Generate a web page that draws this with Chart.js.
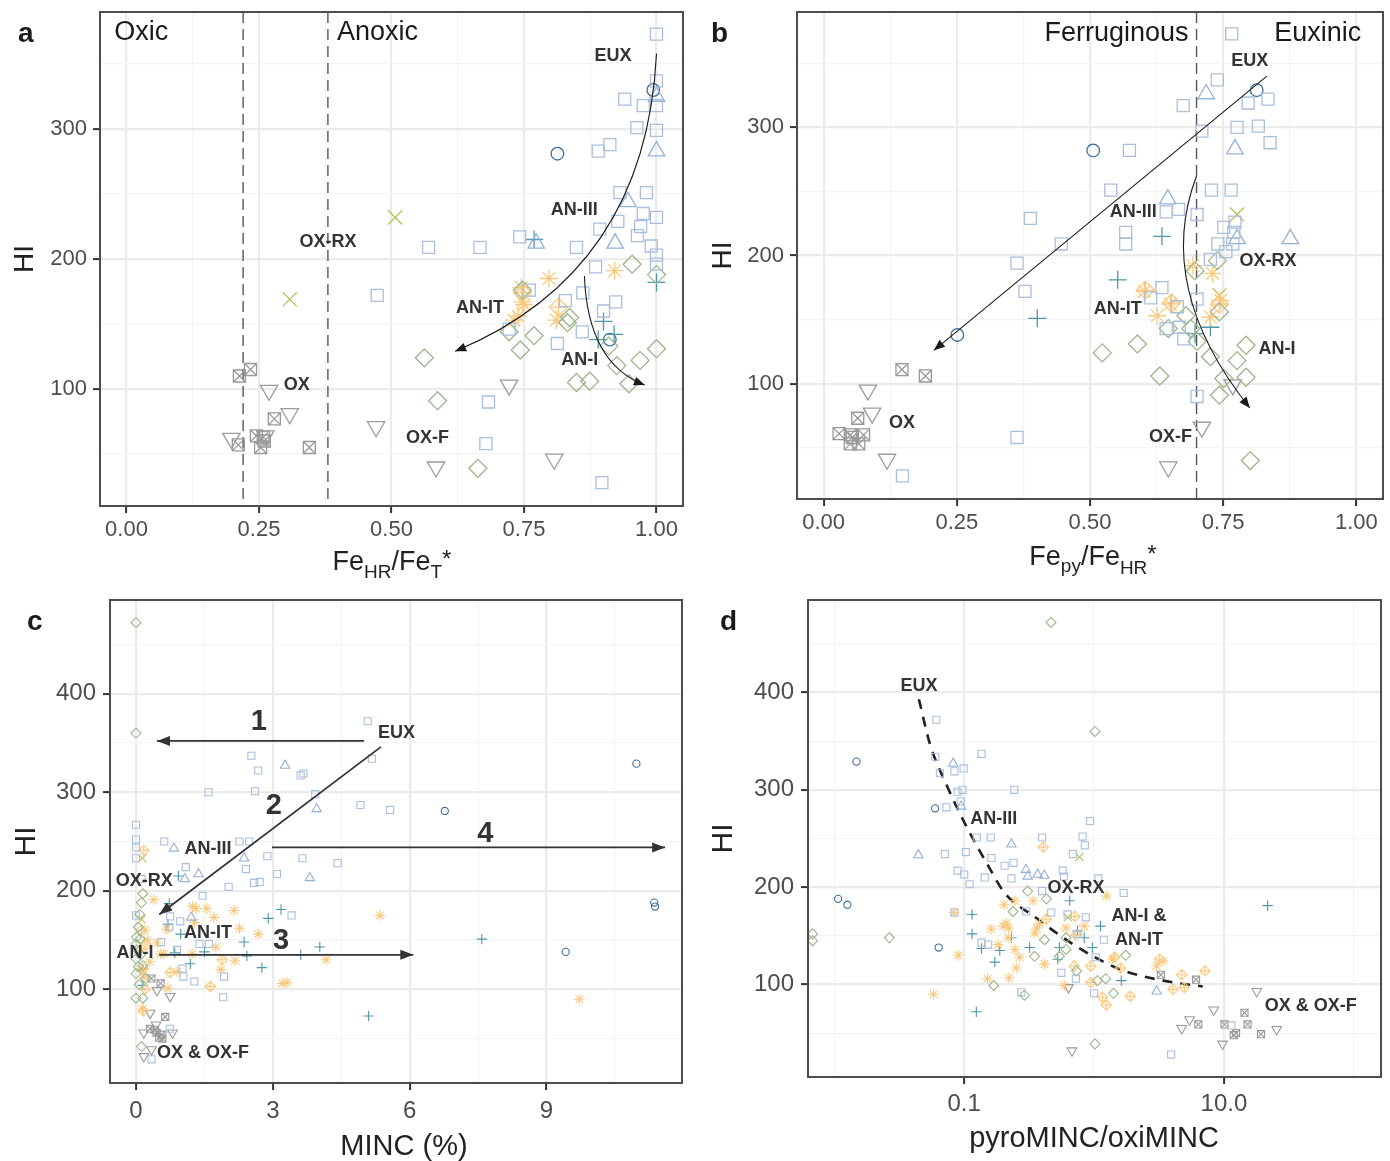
<!DOCTYPE html>
<html>
<head>
<meta charset="utf-8">
<title>HI vs iron speciation and MINC</title>
<script src="https://cdn.jsdelivr.net/npm/chart.js@4.4.0/dist/chart.umd.min.js"></script>
<style>
  body { margin: 0; background: #fff; }
  #wrap { position: relative; width: 1390px; height: 1161px; }
  #wrap canvas { position: absolute; }
</style>
</head>
<body>
<div id="wrap">
  <canvas id="cA" width="695" height="585" style="left:0;top:0"></canvas>
  <canvas id="cB" width="695" height="585" style="left:695px;top:0"></canvas>
  <canvas id="cC" width="695" height="576" style="left:0;top:585px"></canvas>
  <canvas id="cD" width="695" height="576" style="left:695px;top:585px"></canvas>
</div>
<script>
const FONT = '"Liberation Sans", Arial, Helvetica, sans-serif';

// ---------- panel a : FeHR/FeT* vs HI ----------
const aSquares = [[1.00,373],[1.00,337],[0.94,323],[0.975,318],[1.00,318],[0.963,301],[1.00,299],[0.89,283],[0.912,288],
  [0.931,251],[0.981,251],[0.975,235],[1.00,232],[0.927,229],[0.893,223],[0.97,225],[0.964,218],[0.99,210],[1.00,203],
  [1.00,196],[0.742,217],[0.57,209],[0.667,209],[0.849,209],[0.885,194],[0.473,172],[0.76,176],[0.828,168],[0.861,174],
  [0.923,167],[0.90,160],[0.86,144],[0.813,135],[0.722,146],[0.683,90],[0.678,58],[0.897,28]];
const aCircles = [[0.994,330],[0.813,281],[0.912,138]];
const aTriangles = [[1.00,325],[1.00,283],[0.946,244],[0.922,212],[0.773,212]];
const aPlus = [[0.769,215],[1.00,182],[0.90,152],[0.89,138],[0.92,142]];
const aCrossX = [[0.507,232],[0.308,169]];
const aDiamonds = [[0.954,196],[1.00,188],[0.747,176],[0.836,155],[0.832,151],[0.722,144],[0.769,141],[0.743,130],
  [0.91,133],[0.562,124],[1.00,131],[0.925,118],[0.969,122],[0.849,105],[0.874,106],[0.948,104],[0.587,91],[0.663,39]];
const aStars = [[0.797,185],[0.921,191],[0.747,167],[0.739,156],[0.731,153],[0.811,153],[0.75,165],[0.745,178]];
const aDiamondPlus = [[0.815,163],[0.747,174]];
const aTriDown = [[0.269,99],[0.308,81],[0.198,62],[0.262,64],[0.471,71],[0.584,40],[0.722,103],[0.807,46]];
const aBoxX = [[0.213,110],[0.234,115],[0.279,77],[0.211,57],[0.245,64],[0.258,63],[0.253,55],[0.26,60],[0.345,55]];

// ---------- panel b : Fepy/FeHR* vs HI ----------
const bSquares = [[0.766,373],[0.739,337],[0.675,317],[0.797,319],[0.834,322],[0.71,297],[0.776,300],[0.816,301],
  [0.838,288],[0.574,282],[0.539,251],[0.728,251],[0.765,251],[0.388,229],[0.643,234],[0.666,236],[0.701,232],
  [0.567,218],[0.567,209],[0.446,209],[0.363,194],[0.751,222],[0.772,226],[0.77,218],[0.74,209],[0.768,209],
  [0.755,203],[0.726,197],[0.378,172],[0.635,175],[0.614,167],[0.701,166],[0.664,160],[0.643,143],[0.668,144],
  [0.676,135],[0.701,90],[0.363,58],[0.148,28]];
const bCircles = [[0.813,329],[0.506,282],[0.251,138]];
const bTriangles = [[0.718,326],[0.772,283],[0.646,244],[0.876,213],[0.776,213]];
const bPlus = [[0.635,215],[0.552,181],[0.401,151],[0.726,144],[0.697,139]];
const bCrossX = [[0.776,232],[0.743,169]];
const bDiamonds = [[0.739,196],[0.697,188],[0.743,156],[0.68,153],[0.647,143],[0.689,143],[0.726,121],[0.701,133],
  [0.523,124],[0.589,131],[0.631,106],[0.793,130],[0.776,118],[0.793,105],[0.751,104],[0.743,91],[0.801,40]];
const bStars = [[0.693,192],[0.73,186],[0.602,172],[0.651,162],[0.626,153],[0.726,152],[0.745,165]];
const bDiamondPlus = [[0.604,173],[0.653,163],[0.743,162]];
const bTriDown = [[0.083,95],[0.091,77],[0.119,41],[0.71,66],[0.647,35],[0.768,99]];
const bBoxX = [[0.147,111],[0.191,106],[0.064,73],[0.029,61],[0.05,60],[0.075,60],[0.05,53],[0.066,53],[0.054,58]];

// ---------- panel c : MINC (%) vs HI ----------
const cSquares = [[5.08,372],[5.17,334],[2.53,337],[2.68,322],[3.61,317],[3.67,319],[1.59,300],[2.61,301],[3.93,298],
  [4.92,287],[5.57,282],[0,267],[0,252],[0.62,250],[2.27,250],[2.48,250],[2.88,235],[3.65,233],[4.42,228],[1.09,224],
  [2.41,222],[3.09,217],[2.03,204],[2.59,208],[2.71,209],[0,233],[0,244],[0.12,212],[1.46,195],[0,175],[0.75,174],
  [0.97,169],[3.41,175],[0.73,163],[1.39,146],[1.02,121],[1.28,108],[1.93,113],[1.04,113],[1.91,92],[0.74,60],
  [0.34,29],[1.6,146],[0.55,148],[0.9,140]];
const cCircles = [[10.97,329],[6.77,281],[11.36,188],[11.38,184],[9.42,138]];
const cTriangles = [[3.27,327],[3.96,283],[2.37,233],[3.81,213],[0.83,243],[1.07,212],[1.37,217],[1.21,173]];
const cPlus = [[3.18,181],[2.90,172],[0.93,215],[0.73,187],[0.98,156],[0.85,137],[1.19,126],[0.15,104],[2.37,148],
  [2.43,134],[2.76,122],[3.61,135],[4.03,143],[7.58,151],[5.10,73],[0.70,166],[1.5,138]];
const cCrossX = [[0.14,233],[0.12,171]];
const cDiamonds = [[0,472],[0,360],[0.15,197],[0.12,188],[0.08,176],[0.05,163],[0.01,153],[0,146],[0.02,140],[0,131],
  [0.05,123],[0,116],[0.07,105],[0,91],[0.15,91],[0.12,42],[0.09,151],[0.21,111],[0.15,124],[0.1,135]];
const cStars = [[0.39,191],[1.24,184],[1.32,182],[1.55,182],[2.15,180],[1.71,173],[1.28,168],[0.67,161],[2.27,162],
  [2.68,156],[0.61,136],[0.46,147],[5.35,175],[2.17,129],[1.86,120],[4.17,130],[3.2,106],[3.31,107],[9.72,90],
  [1.75,143],[1.23,136],[0.55,136],[0.15,120],[0.14,80],[0.70,101],[0.2,160],[0.25,150],[0.12,140],[0.3,128],
  [0.18,112],[0.9,118]];
const cDiamondPlus = [[0.17,241],[0.16,121],[0.75,117],[1.63,103],[1.89,130],[0.16,78],[0.12,160],[0.2,100],[0.22,145]];
const cTriDown = [[0.46,99],[0.75,93],[0.31,76],[0.44,64],[0.17,56],[0.80,56],[0.34,39],[0.17,32]];
const cBoxX = [[0.34,111],[0.54,106],[0.64,72],[0.31,60],[0.41,59],[0.51,51],[0.56,54],[0.58,50],[0.45,56]];

// ---------- panel d : pyroMINC/oxiMINC vs HI ----------
const dSquares = [[0.061,372],[0.060,334],[0.065,317],[0.084,319],[0.099,322],[0.136,337],[0.089,298],[0.097,300],
  [0.243,300],[0.094,288],[0.073,282],[0.933,268],[0.125,251],[0.16,251],[0.398,251],[0.816,252],[0.849,243],
  [0.687,234],[0.071,234],[0.103,236],[0.162,230],[0.24,225],[0.205,222],[0.574,217],[0.587,211],[0.089,217],
  [0.10,213],[0.144,210],[0.231,209],[0.11,203],[1.08,209],[1.69,194],[0.398,196],[0.084,174],[0.136,143],
  [0.153,141],[0.30,175],[0.468,174],[0.625,172],[0.863,169],[0.746,152],[1.19,146],[1.03,128],[0.56,112],
  [0.724,106],[1.0,91],[0.275,92],[3.92,28],[11.4,58]];
const dCircles = [[0.0148,329],[0.0597,281],[0.0107,188],[0.0126,182],[0.0636,138]];
const dTriangles = [[0.0444,233],[0.0822,327],[0.0947,283],[0.231,244],[0.299,218],[0.308,211],[0.368,213],[0.414,212],[3.03,93]];
const dPlus = [[21.7,181],[0.124,72],[0.115,172],[0.115,152],[0.136,137],[0.172,123],[0.188,135],[0.231,148],
  [0.319,138],[0.525,126],[0.541,138],[0.746,155],[0.65,186],[0.84,148],[0.97,138],[1.12,160],[1.62,104]];
const dCrossX = [[0.773,231],[0.627,169]];
const dDiamonds = [[0.466,472],[1.016,360],[0.0068,152],[0.0068,145],[0.0265,148],[0.308,196],[0.43,188],[0.169,99],
  [0.291,89],[1.016,39],[0.238,175],[0.415,146],[0.608,148],[0.608,136],[0.348,129],[0.541,129],[0.733,114],
  [1.06,104],[1.23,106],[1.75,130],[1.41,91]];
const dStars = [[0.0836,174],[0.09,130],[0.058,90],[0.203,182],[0.245,186],[0.339,186],[0.161,157],[0.20,160],
  [0.21,163],[0.22,158],[0.363,158],[0.38,163],[0.35,153],[0.183,141],[0.245,136],[0.218,148],[0.267,128],
  [0.252,117],[0.415,121],[0.221,107],[0.151,106],[0.608,158],[0.84,160],[0.59,99],[1.24,191],[1.38,126],
  [3.03,119],[3.4,124]];
const dDiamondPlus = [[0.711,170],[0.428,167],[0.724,151],[0.944,119],[0.703,119],[0.944,102],[1.16,87],[1.9,88],
  [1.44,128],[1.6,117],[3.2,126],[1.24,79],[4.05,95],[4.95,97],[4.73,110],[7.15,114],[0.407,241]];
const dTriDown = [[0.676,32],[0.635,97],[4.73,55],[5.44,64],[8.36,74],[9.77,39],[17.9,93],[25.5,54]];
const dBoxX = [[3.27,110],[6.1,105],[6.35,59],[10.1,59],[12.4,50],[11.9,48],[14.4,71],[15.2,59],[19.3,49]];
// dashed trend in panel d
const dTrendX = [0.0448, 0.0545, 0.0743, 0.1016, 0.150, 0.205, 0.354, 0.714, 1.56, 3.40, 6.87];
const dTrendY = [393, 347, 303, 265, 224, 194, 169, 140, 116, 104, 98];

// ---------- axis breaks ----------
const FE_MAJOR = [0, 0.25, 0.5, 0.75, 1];
const FE_MINOR = [0.125, 0.375, 0.625, 0.875];
const HI_AB_MAJOR = [100, 200, 300];
const HI_AB_MINOR = [50, 150, 250, 350];
const MINC_MAJOR = [0, 3, 6, 9];
const MINC_MINOR = [1.5, 4.5, 7.5, 10.5];
const RATIO_MAJOR = [0.1, 10];
const RATIO_MINOR = [0.01, 1, 100];
const RATIO_LABELS = ['0.1', '10.0'];
const HI_CD_MAJOR = [100, 200, 300, 400];
const HI_CD_MINOR = [50, 150, 250, 350, 450];

// marker look per group: pointStyle(s), colour, radius large / small
const MARKERS = {
  squares:     { style: ['rect'],            color: '#A9BFDC', big: 8.5, small: 5.0 },
  circles:     { style: ['circle'],          color: '#3B6FA0', big: 6.3, small: 3.6 },
  triangles:   { style: ['triangle'],        color: '#94B1D8', big: 9.5, small: 5.4 },
  plus:        { style: ['cross'],           color: '#4F97A8', big: 9.0, small: 5.2 },
  crossX:      { style: ['crossRot'],        color: '#BDBD5E', big: 10,  small: 5.8 },
  diamonds:    { style: ['rectRot'],         color: '#9CB78A', big: 9.0, small: 5.0 },
  stars:       { style: ['star'],            color: '#FBC97E', big: 9.0, small: 5.4 },
  diamondPlus: { style: ['rectRot', 'cross'], color: '#FBC97E', big: 9.0, small: 5.2 },
  triDown:     { style: ['triangle'], rot: 180, color: '#9B9B9B', big: 10, small: 5.6 },
  boxX:        { style: ['rect', 'crossRot'], color: '#999999', big: 8.5, small: 5.0 }
};

function markerSets(groups, big) {
  const sets = [];
  groups.forEach(([key, pts]) => {
    const m = MARKERS[key];
    m.style.forEach(st => sets.push({
      data: pts.map(([x, y]) => ({ x, y })),
      pointStyle: st,
      rotation: m.rot || 0,
      pointRadius: big ? m.big : m.small,
      pointHoverRadius: big ? m.big : m.small,
      borderWidth: big ? 1.3 : 1.1,
      borderColor: m.color,
      backgroundColor: 'rgba(0,0,0,0)'
    }));
  });
  return sets;
}

function axis(o) {
  const all = [...o.majors, ...o.minors].sort((a, b) => a - b);
  const near = (m, v) => Math.abs(m - v) <= 1e-9 * Math.max(1, Math.abs(m));
  const isMajor = v => o.majors.some(m => near(m, v));
  const label = v => {
    const i = o.majors.findIndex(m => near(m, v));
    return i < 0 ? '' : o.fmt(o.majors[i], i);
  };
  return {
    type: o.type || 'linear',
    min: o.min, max: o.max,
    afterBuildTicks: s => { s.ticks = all.map(v => ({ value: v })); },
    afterFit: s => {
      // fixed box sizes so the panel frame sits where it should
      if (o.width) s.width = o.width;
      if (o.height) s.height = o.height;
      s.paddingTop = 0; s.paddingBottom = 0; s.paddingLeft = 0; s.paddingRight = 0;
    },
    ticks: {
      autoSkip: false, maxRotation: 0, minRotation: 0,
      padding: o.pad, color: '#4D4D4D',
      font: { family: FONT, size: o.size },
      callback: v => label(v)
    },
    grid: {
      drawTicks: true, tickLength: 7,
      color: c => (c.tick && isMajor(c.tick.value)) ? '#EBEBEB' : '#F4F4F4',
      lineWidth: c => (c.tick && isMajor(c.tick.value)) ? 2.2 : 1.2,
      tickColor: c => (c.tick && isMajor(c.tick.value)) ? '#333333' : 'rgba(0,0,0,0)',
      tickWidth: 2
    },
    border: { display: false },
    title: { display: false }
  };
}

// annotation layer: dashed guides, arrows, labels, frame, axis titles
const decorPlugin = {
  id: 'decor',
  beforeDatasetsDraw(chart, args, o) {
    const { ctx, chartArea: ca, scales } = chart;
    ctx.save();
    ctx.strokeStyle = '#555555';
    ctx.lineWidth = 1.4;
    ctx.setLineDash([11, 6]);
    (o.vlines || []).forEach(v => {
      const px = scales.x.getPixelForValue(v);
      ctx.beginPath();
      ctx.moveTo(px, ca.top);
      ctx.lineTo(px, ca.bottom);
      ctx.stroke();
    });
    ctx.restore();
  },
  afterDatasetsDraw(chart, args, o) {
    const { ctx, chartArea: ca, scales: { x, y } } = chart;
    const P = ([vx, vy]) => [x.getPixelForValue(vx), y.getPixelForValue(vy)];
    ctx.save();

    (o.arrows || []).forEach(a => {
      const p0 = P(a.from), p2 = P(a.to);
      ctx.strokeStyle = o.arrowColor;
      ctx.fillStyle = o.arrowColor;
      ctx.lineWidth = o.arrowWidth;
      ctx.beginPath();
      ctx.moveTo(p0[0], p0[1]);
      let d;
      if (a.ctrl) {
        const p1 = P(a.ctrl);
        ctx.quadraticCurveTo(p1[0], p1[1], p2[0], p2[1]);
        d = [p2[0] - p1[0], p2[1] - p1[1]];
      } else {
        ctx.lineTo(p2[0], p2[1]);
        d = [p2[0] - p0[0], p2[1] - p0[1]];
      }
      ctx.stroke();
      const ang = Math.atan2(d[1], d[0]);
      const [L, W] = o.head;
      const bx = p2[0] - L * Math.cos(ang), by = p2[1] - L * Math.sin(ang);
      ctx.beginPath();
      ctx.moveTo(p2[0], p2[1]);
      ctx.lineTo(bx + W * Math.sin(ang), by - W * Math.cos(ang));
      ctx.lineTo(bx - W * Math.sin(ang), by + W * Math.cos(ang));
      ctx.closePath();
      ctx.fill();
    });

    ctx.textBaseline = 'middle';
    (o.texts || []).forEach(t => {
      const [px, py] = P([t.x, t.y]);
      ctx.font = `${t.bold === false ? '' : 'bold '}${t.size || 18}px ${FONT}`;
      ctx.fillStyle = t.color || '#333333';
      ctx.textAlign = t.align || 'center';
      ctx.fillText(t.t, px, py);
    });

    // panel frame
    ctx.strokeStyle = '#4D4D4D';
    ctx.lineWidth = 2;
    ctx.strokeRect(ca.left, ca.top, ca.right - ca.left, ca.bottom - ca.top);

    // panel letter
    ctx.textAlign = 'left';
    ctx.textBaseline = 'alphabetic';
    ctx.fillStyle = '#1A1A1A';
    ctx.font = `bold 28px ${FONT}`;
    ctx.fillText(o.letter.t, o.letter.x, o.letter.y);

    // y title
    ctx.save();
    ctx.translate(o.yTitle.x, (ca.top + ca.bottom) / 2);
    ctx.rotate(-Math.PI / 2);
    ctx.textAlign = 'center';
    ctx.textBaseline = 'middle';
    ctx.font = `${o.yTitle.size}px ${FONT}`;
    ctx.fillStyle = '#222222';
    ctx.fillText('HI', 0, 0);
    ctx.restore();

    // x title (pieces may be sub/superscripted)
    let total = 0;
    o.xTitle.parts.forEach(p => {
      ctx.font = `${p.size}px ${FONT}`;
      p.w = ctx.measureText(p.t).width;
      total += p.w;
    });
    let cx = o.xTitle.cx - total / 2;
    ctx.fillStyle = '#222222';
    o.xTitle.parts.forEach(p => {
      ctx.font = `${p.size}px ${FONT}`;
      ctx.fillText(p.t, cx, o.xTitle.y + (p.dy || 0));
      cx += p.w;
    });
    ctx.restore();
  }
};

function makePanel(id, cfg) {
  const datasets = markerSets(cfg.groups, cfg.big).concat(cfg.extra || []);
  return new Chart(document.getElementById(id), {
    type: 'scatter',
    data: { datasets },
    options: {
      responsive: false,
      animation: false,
      devicePixelRatio: 1,
      events: [],
      layout: { autoPadding: false, padding: cfg.padding },
      scales: { x: axis(cfg.x), y: axis(cfg.y) },
      plugins: { legend: { display: false }, tooltip: { enabled: false }, decor: cfg.decor }
    },
    plugins: [decorPlugin]
  });
}

const fe2 = v => v.toFixed(2);

makePanel('cA', {
  big: true,
  padding: { top: 12, right: 12, left: 0, bottom: 0 },
  x: { min: -0.05, max: 1.05, majors: FE_MAJOR, minors: FE_MINOR, fmt: fe2, size: 22, pad: 4, height: 79 },
  y: { min: 10, max: 390, majors: HI_AB_MAJOR, minors: HI_AB_MINOR, fmt: String, size: 22, pad: 6, width: 100 },
  groups: [['squares', aSquares], ['triangles', aTriangles], ['diamonds', aDiamonds], ['stars', aStars],
    ['diamondPlus', aDiamondPlus], ['plus', aPlus], ['crossX', aCrossX], ['triDown', aTriDown], ['boxX', aBoxX],
    ['circles', aCircles]],
  decor: {
    letter: { t: 'a', x: 18, y: 42 },
    yTitle: { x: 25, size: 28 },
    xTitle: { cx: 392, y: 570, parts: [
      { t: 'Fe', size: 27 }, { t: 'HR', size: 19, dy: 8 }, { t: '/Fe', size: 27 },
      { t: 'T', size: 19, dy: 8 }, { t: '*', size: 24, dy: -3 }] },
    vlines: [0.22, 0.38],
    arrowColor: '#1A1A1A', arrowWidth: 1.1, head: [11, 4.5],
    arrows: [
      { from: [1.0, 358], ctrl: [0.98, 190], to: [0.62, 129] },
      { from: [0.864, 187], ctrl: [0.87, 120], to: [0.978, 103] }
    ],
    texts: [
      { t: 'Oxic', x: -0.023, y: 374, size: 27, bold: false, align: 'left', color: '#1A1A1A' },
      { t: 'Anoxic', x: 0.397, y: 374, size: 27, bold: false, align: 'left', color: '#1A1A1A' },
      { t: 'EUX', x: 0.918, y: 356 }, { t: 'AN-III', x: 0.845, y: 238 }, { t: 'OX-RX', x: 0.38, y: 213 },
      { t: 'AN-IT', x: 0.667, y: 162 }, { t: 'AN-I', x: 0.855, y: 122 }, { t: 'OX', x: 0.321, y: 103 },
      { t: 'OX-F', x: 0.568, y: 62 }
    ]
  }
});

makePanel('cB', {
  big: true,
  padding: { top: 12, right: 7, left: 0, bottom: 0 },
  x: { min: -0.05, max: 1.05, majors: FE_MAJOR, minors: FE_MINOR, fmt: fe2, size: 22, pad: 4, height: 86 },
  y: { min: 10, max: 390, majors: HI_AB_MAJOR, minors: HI_AB_MINOR, fmt: String, size: 22, pad: 6, width: 102 },
  groups: [['squares', bSquares], ['triangles', bTriangles], ['diamonds', bDiamonds], ['stars', bStars],
    ['diamondPlus', bDiamondPlus], ['plus', bPlus], ['crossX', bCrossX], ['triDown', bTriDown], ['boxX', bBoxX],
    ['circles', bCircles]],
  decor: {
    letter: { t: 'b', x: 16, y: 42 },
    yTitle: { x: 28, size: 28 },
    xTitle: { cx: 398, y: 565, parts: [
      { t: 'Fe', size: 27 }, { t: 'py', size: 19, dy: 7 }, { t: '/Fe', size: 27 },
      { t: 'HR', size: 19, dy: 9 }, { t: '*', size: 24, dy: -3 }] },
    vlines: [0.70],
    arrowColor: '#1A1A1A', arrowWidth: 1.1, head: [11, 4.5],
    arrows: [
      { from: [0.832, 340], to: [0.207, 126] },
      { from: [0.70, 262], ctrl: [0.62, 175], to: [0.80, 81] }
    ],
    texts: [
      { t: 'Ferruginous', x: 0.685, y: 373.5, size: 27, bold: false, align: 'right', color: '#1A1A1A' },
      { t: 'Euxinic', x: 0.846, y: 373.5, size: 27, bold: false, align: 'left', color: '#1A1A1A' },
      { t: 'EUX', x: 0.80, y: 352 }, { t: 'AN-III', x: 0.581, y: 234 }, { t: 'OX-RX', x: 0.834, y: 196 },
      { t: 'AN-IT', x: 0.552, y: 158 }, { t: 'AN-I', x: 0.851, y: 127 }, { t: 'OX', x: 0.147, y: 69 },
      { t: 'OX-F', x: 0.651, y: 58 }
    ]
  }
});

makePanel('cC', {
  big: false,
  padding: { top: 15, right: 13, left: 0, bottom: 0 },
  x: { min: -0.57, max: 11.97, majors: MINC_MAJOR, minors: MINC_MINOR, fmt: String, size: 24, pad: 7, height: 78 },
  y: { min: 5, max: 495, majors: HI_CD_MAJOR, minors: HI_CD_MINOR, fmt: String, size: 24, pad: 7, width: 110 },
  groups: [['squares', cSquares], ['triangles', cTriangles], ['diamonds', cDiamonds], ['stars', cStars],
    ['diamondPlus', cDiamondPlus], ['plus', cPlus], ['crossX', cCrossX], ['triDown', cTriDown], ['boxX', cBoxX],
    ['circles', cCircles]],
  decor: {
    letter: { t: 'c', x: 27, y: 45 },
    yTitle: { x: 27, size: 30 },
    xTitle: { cx: 404, y: 570, parts: [{ t: 'MINC (%)', size: 29 }] },
    arrowColor: '#333333', arrowWidth: 1.8, head: [13, 5],
    arrows: [
      { from: [5.0, 352], to: [0.46, 352] },
      { from: [5.37, 346], to: [0.51, 176] },
      { from: [0.51, 135], to: [6.08, 135] },
      { from: [2.98, 244], to: [11.6, 244] }
    ],
    texts: [
      { t: '1', x: 2.69, y: 371, size: 29 }, { t: '2', x: 3.02, y: 286, size: 29 },
      { t: '3', x: 3.18, y: 149, size: 29 }, { t: '4', x: 7.66, y: 258, size: 29 },
      { t: 'EUX', x: 5.71, y: 360 }, { t: 'AN-III', x: 1.58, y: 242 }, { t: 'OX-RX', x: 0.18, y: 210 },
      { t: 'AN-IT', x: 1.58, y: 157 }, { t: 'AN-I', x: -0.02, y: 137 }, { t: 'OX & OX-F', x: 1.47, y: 35 }
    ]
  }
});

makePanel('cD', {
  big: false,
  padding: { top: 15, right: 9, left: 0, bottom: 0 },
  x: { type: 'logarithmic', min: 0.00627, max: 162, majors: RATIO_MAJOR, minors: RATIO_MINOR,
    fmt: (v, i) => RATIO_LABELS[i], size: 24, pad: 6, height: 84 },
  y: { min: 5, max: 495, majors: HI_CD_MAJOR, minors: HI_CD_MINOR, fmt: String, size: 24, pad: 7, width: 113 },
  groups: [['squares', dSquares], ['triangles', dTriangles], ['diamonds', dDiamonds], ['stars', dStars],
    ['diamondPlus', dDiamondPlus], ['plus', dPlus], ['crossX', dCrossX], ['triDown', dTriDown], ['boxX', dBoxX],
    ['circles', dCircles]],
  extra: [{
    data: dTrendX.map((x, i) => ({ x, y: dTrendY[i] })),
    showLine: true, pointRadius: 0, pointHoverRadius: 0,
    borderColor: '#222222', borderWidth: 2.6, borderDash: [10, 8],
    cubicInterpolationMode: 'monotone', fill: false
  }],
  decor: {
    letter: { t: 'd', x: 25, y: 45 },
    yTitle: { x: 29, size: 30 },
    xTitle: { cx: 399, y: 562, parts: [{ t: 'pyroMINC/oxiMINC', size: 29 }] },
    arrowColor: '#333333', arrowWidth: 1.8, head: [13, 5],
    arrows: [],
    texts: [
      { t: 'EUX', x: 0.0448, y: 407 }, { t: 'AN-III', x: 0.1687, y: 270 }, { t: 'OX-RX', x: 0.726, y: 199 },
      { t: 'AN-I &', x: 2.22, y: 170 }, { t: 'AN-IT', x: 2.22, y: 146 }, { t: 'OX & OX-F', x: 46.6, y: 78 }
    ]
  }
});
</script>
</body>
</html>
